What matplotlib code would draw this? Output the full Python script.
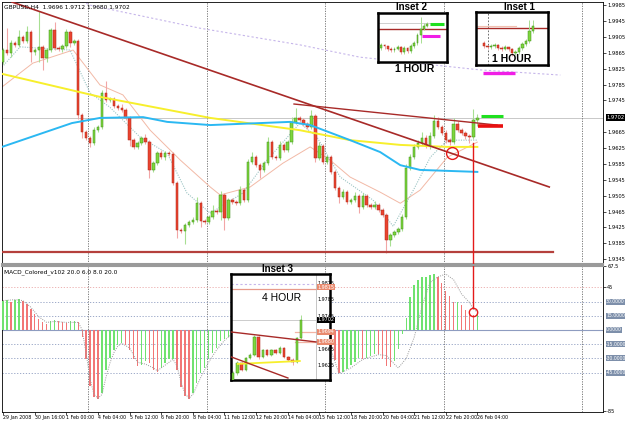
import matplotlib
matplotlib.use("Agg")
import matplotlib.pyplot as plt
from matplotlib.patches import Rectangle
import matplotlib.transforms as mtrans

plt.rcParams['font.family'] = ['Liberation Sans', 'DejaVu Sans']
NARROW = ['Liberation Sans Narrow', 'DejaVu Sans']

# ------------------------------------------------------------------ data
symbol_header = "GBPUSD,H4  1.9696 1.9712 1.9680 1.9702"
macd_header = "MACD_Colored_v102 20.0 6.0 8.0 20.0"
current_price = 1.9702

first_open = 1.9842
closes = [1.9872, 1.9864, 1.9890, 1.9885, 1.9905, 1.9895, 1.9917, 1.9867, 1.9872, 1.9880,
          1.9852, 1.9872, 1.9922, 1.9877, 1.9875, 1.9882, 1.9917, 1.9890, 1.9895, 1.9708,
          1.9665, 1.9650, 1.9638, 1.9670, 1.9678, 1.9764, 1.9746, 1.9749, 1.9731, 1.9726,
          1.9721, 1.9701, 1.9645, 1.9628, 1.9638, 1.9650, 1.9640, 1.9570, 1.9587, 1.9612,
          1.9602, 1.9612, 1.9610, 1.9537, 1.9418, 1.9416, 1.9431, 1.9439, 1.9444, 1.9486,
          1.9441, 1.9439, 1.9451, 1.9466, 1.9464, 1.9507, 1.9449, 1.9494, 1.9489, 1.9486,
          1.9519, 1.9494, 1.9590, 1.9602, 1.9582, 1.9570, 1.9587, 1.9640, 1.9602, 1.9600,
          1.9633, 1.9620, 1.9640, 1.9691, 1.9701, 1.9696, 1.9686, 1.9678, 1.9706, 1.9600,
          1.9630, 1.9590, 1.9602, 1.9565, 1.9524, 1.9502, 1.9514, 1.9489, 1.9494, 1.9504,
          1.9476, 1.9504, 1.9481, 1.9476, 1.9481, 1.9469, 1.9456, 1.9393, 1.9406, 1.9413,
          1.9421, 1.9451, 1.9575, 1.9602, 1.9628, 1.9638, 1.9650, 1.9630, 1.9655, 1.9693,
          1.9678, 1.9663, 1.9645, 1.9640, 1.9686, 1.9670, 1.9663, 1.9655, 1.9653, 1.9696,
          1.9702]
upper_wick_pips = [5, 55, 8, 5, 18, 5, 15, 5, 5, 90, 5, 5, 5, 20, 5, 5, 8, 5, 5, 5,
                   5, 5, 5, 8, 5, 8, 30, 5, 5, 5, 10, 5, 5, 5, 5, 5, 10, 5, 5, 5,
                   8, 5, 5, 5, 5, 5, 5, 5, 8, 15, 5, 5, 5, 15, 5, 10, 5, 5, 5, 5,
                   10, 5, 8, 12, 5, 5, 5, 12, 5, 5, 10, 5, 5, 12, 25, 5, 5, 5, 15, 5,
                   10, 5, 5, 5, 5, 5, 8, 5, 5, 10, 5, 8, 5, 5, 10, 5, 5, 5, 5, 5,
                   5, 8, 10, 8, 8, 8, 15, 8, 10, 15, 10, 5, 8, 5, 15, 8, 5, 5, 5, 28,
                   10]
lower_wick_pips = [5, 5, 10, 5, 5, 5, 5, 25, 8, 30, 30, 10, 5, 5, 5, 8, 5, 10, 5, 10,
                   15, 5, 10, 5, 5, 5, 5, 5, 5, 5, 5, 5, 15, 5, 5, 5, 5, 20, 5, 5,
                   5, 8, 5, 5, 20, 5, 33, 5, 5, 5, 15, 5, 5, 5, 5, 20, 30, 5, 5, 5,
                   5, 5, 5, 5, 5, 20, 5, 5, 5, 5, 5, 5, 5, 5, 5, 5, 5, 5, 5, 10,
                   5, 5, 5, 5, 5, 15, 5, 5, 5, 5, 15, 5, 5, 5, 5, 5, 5, 33, 15, 5,
                   5, 5, 5, 5, 5, 5, 5, 5, 8, 5, 5, 5, 8, 8, 5, 5, 5, 8, 15, 5,
                   16]

# moving averages (bar index, price)
ma_yellow_x = [-0.3, 24.5, 52.4, 75.1, 87.8, 100.5, 112.4, 120.0]
ma_yellow_y = [1.9812, 1.9754, 1.9701, 1.9670, 1.9645, 1.9633, 1.9628, 1.9628]
ma_blue_x = [-0.3, 17.4, 24.5, 35.4, 41.5, 52.4, 72.6, 77.7, 87.8, 95.4, 100.5, 105.5, 120.0]
ma_blue_y = [1.9628, 1.9688, 1.9701, 1.9703, 1.9691, 1.9683, 1.9691, 1.9683, 1.9645,
             1.9615, 1.9582, 1.9570, 1.9565]
ma_salmon_x = [-0.3, 7.5, 17.7, 24.5, 30.3, 37.2, 44.8, 52.4, 54.9, 62.5, 70.8, 77.7,
               82.7, 87.8, 95.4, 100.5, 105.5, 112.4, 120.0]
ma_salmon_y = [1.9779, 1.9839, 1.9872, 1.9784, 1.9759, 1.9670, 1.9595, 1.9527, 1.9507,
               1.9527, 1.9587, 1.9628, 1.9595, 1.9552, 1.9514, 1.9486, 1.9519, 1.9602, 1.9640]
ma_fast_x = [-0.3, 4.3, 16.9, 22.0, 27.0, 34.6, 41.5, 46.5, 52.4, 60.7, 66.8, 75.1,
             79.4, 85.3, 93.6, 98.7, 103.8, 108.1, 112.4, 120.0]
ma_fast_y = [1.9829, 1.9880, 1.9872, 1.9764, 1.9728, 1.9653, 1.9612, 1.9512, 1.9461,
             1.9512, 1.9595, 1.9688, 1.9653, 1.9552, 1.9494, 1.9428, 1.9519, 1.9602,
             1.9645, 1.9645]
ma_lavender_x = [20.0, 22.0, 49.8, 75.1, 90.3, 120.7, 141.0]
ma_lavender_y = [1.9995, 1.9985, 1.9927, 1.9885, 1.9854, 1.9822, 1.9809]

# drawn objects (bar index, price)
trend_main = ([2.2, 138.2], [1.9993, 1.9527])
trend_top = ([73.6, 125.0], [1.9736, 1.9683])
support = ([-0.3, 139.2], [1.9363, 1.9363])
green_mark = ([121.0, 126.5], [1.9707, 1.9707])
red_mark = ([120.2, 126.5], [1.9680, 1.9680])
magenta_mark = ([121.5, 129.6], [1.9814, 1.9814])
circle_main = (113.6, 1.9612)
vline_bar, vline_price, vline_macd = 118.9, 1.9638, 23.0
circle_macd = (118.9, 19.0)
separators = [21.5, 51.5, 81.5, 111.5, 146.5]

price_ticks = [1.9985, 1.9945, 1.9905, 1.9865, 1.9825, 1.9785, 1.9745,
               1.9665, 1.9625, 1.9585, 1.9545, 1.9505, 1.9465, 1.9425, 1.9385, 1.9345]

time_ticks = [0, 8, 16, 24, 32, 40, 48, 56, 64, 72, 80, 88, 96, 104, 112, 120]
time_labels = ["29 Jan 2008", "30 Jan 16:00", "1 Feb 00:00", "4 Feb 04:00", "5 Feb 12:00",
               "6 Feb 20:00", "8 Feb 04:00", "11 Feb 12:00", "12 Feb 20:00", "14 Feb 04:00",
               "15 Feb 12:00", "18 Feb 20:00", "20 Feb 04:00", "21 Feb 12:00",
               "22 Feb 20:00", "26 Feb 04:00"]

macd = [31, 32, 30, 32, 33, 31, 27, 22, 17, 12, 8, 6, 9, 11, 10, 8, 7, 9, 10, 8,
        -7, -31, -59, -71, -73, -66, -42, -30, -21, -16, -14, -16, -21, -31, -38, -37, -33, -35, -42, -44,
        -40, -35, -31, -31, -42, -60, -70, -73, -66, -56, -45, -40, -31, -24, -19, -12, -10, -7, -2, 3,
        6, 5, 12, 16, 15, 13, 14, 19, 17, 15, 16, 14, 15, 21, 24, 22, 19, 15, 16, 5,
        2, -6, -10, -20, -32,
        -45, -44, -41, -37, -34, -30, -31, -29.5, -27, -25, -25.5, -31, -38.4, -39.5, -33, -20, -4, 13, 35, 47,
        53, 55.8, 55.8, 57.5, 59.3, 55.5, 50, 41.5, 36, 29.6, 29.6, 26, 21, 17.4, 15.7, 18]
signal_x = [0, 3, 5, 7, 9, 11, 13, 16, 19, 20, 21, 22, 23, 24, 25, 26, 27, 28, 29, 30, 32, 34,
            36, 38, 39, 41, 43, 44, 45, 46, 47, 48, 50, 52, 54, 56, 58, 62, 67, 74, 79, 83,
            85, 88, 91, 95, 97, 99, 100, 102, 104, 106, 108, 110, 112, 114, 116, 118, 119, 120]
signal_y = [31, 32, 31, 24, 14, 8, 9, 8, 8, 0, -25, -52, -68, -72, -68, -50, -35, -24, -17, -14,
            -19, -34, -36, -40, -43, -37, -31, -38, -55, -67, -72, -68, -50, -34, -21, -11, -4,
            12, 18, 23, 8, -22, -46, -40, -31, -26, -27, -36, -40, -30, -8, 25, 50, 56, 59, 53,
            38, 29, 22, 19]
macd_levels = [30, 15, 0, -15, -30, -45]

# inset 2 (1 hour)
in2_open0 = 1.9765
in2_close = [1.9768, 1.9767, 1.9764, 1.9763, 1.9764, 1.9766, 1.9761, 1.9765, 1.9762, 1.9767,
             1.9770, 1.9778, 1.9784, 1.9787, 1.9789]
in2_high = [1.9770, 1.9769, 1.9767, 1.9766, 1.9766, 1.9768, 1.9767, 1.9767, 1.9766, 1.9769,
            1.9772, 1.9780, 1.9796, 1.9790, 1.9791]
in2_low = [1.9763, 1.9764, 1.9762, 1.9761, 1.9761, 1.9763, 1.9759, 1.9759, 1.9760, 1.9760,
           1.9765, 1.9768, 1.9770, 1.9783, 1.9786]
in2_res = 1.9784
in2_gray = 1.9790
in2_magenta = ([12.4, 17.9], 1.9777)
in2_green = ([14.8, 19.0], 1.9789)

# inset 1 (1 hour)
in1_open0 = 1.9769
in1_close = [1.9766, 1.9765, 1.9766, 1.9767, 1.9764, 1.9763, 1.9765, 1.9763, 1.9759, 1.9760,
             1.9764, 1.9768, 1.9771, 1.9781, 1.9786]
in1_high = [1.9771, 1.9767, 1.9768, 1.9769, 1.9768, 1.9766, 1.9767, 1.9765, 1.9764, 1.9762,
            1.9766, 1.9770, 1.9773, 1.9792, 1.9792]
in1_low = [1.9764, 1.9763, 1.9763, 1.9764, 1.9762, 1.9761, 1.9762, 1.9761, 1.9756, 1.9757,
           1.9758, 1.9762, 1.9766, 1.9769, 1.9779]
in1_res = 1.9784
in1_pink = 1.9786
in1_vline = 1.1

# inset 3 (4 hour)
in3_open0 = 1.9586
in3_close = [1.9608, 1.9632, 1.9615, 1.9644, 1.9652, 1.9695, 1.9647, 1.9664, 1.9652, 1.9664,
             1.9656, 1.9668, 1.9647, 1.9639, 1.9635, 1.9692, 1.9736]
in3_high = [1.9612, 1.9636, 1.9634, 1.9647, 1.9656, 1.9699, 1.9697, 1.9667, 1.9666, 1.9667,
            1.9665, 1.9672, 1.9670, 1.9648, 1.9644, 1.9695, 1.9748]
in3_low = [1.9580, 1.9604, 1.9612, 1.9612, 1.9641, 1.9650, 1.9643, 1.9644, 1.9649, 1.9650,
           1.9653, 1.9654, 1.9645, 1.9636, 1.9628, 1.9633, 1.9690]
in3_lav = 1.9823
in3_pink_top = 1.9811
in3_res = ([-0.5, 19.5], [1.9707, 1.9683])
in3_trend = ([-0.5, 12.9], [1.9647, 1.9596])
in3_yellow = ([1.1, 15.7], [1.9630, 1.9637])
in3_levels = [1.9707, 1.9683]
in3_ticks = [1.9825, 1.9785, 1.9745, 1.9665, 1.9625]
in3_boxes = [("1.9815", 1.9815, '#e98a6e'), ("1.9702", 1.9736, 'black'),
             ("1.9694", 1.9707, '#e98a6e'), ("1.9680", 1.9683, '#e98a6e')]

# ------------------------------------------------------------------ style
PIP = 0.0001
W, H = 625, 421
BODY_UP, EDGE_UP, WICK_UP = '#7ed63e', '#3f8f1a', '#a8df92'
BODY_DN, EDGE_DN, WICK_DN = '#ea4430', '#b0281a', '#f2a6a6'
DARKRED = '#a82a28'
TICK_FS = 3.7
BOX_FS = 3.3
TIME_FS = 3.4


def rect(x0, y0, x1, y1):
    return [x0 / W, 1 - y1 / H, (x1 - x0) / W, (y1 - y0) / H]


def draw_candles(a, opens, highs, lows, cls, width, lw_wick=0.8, min_h=0.0001):
    for i in range(len(cls)):
        o, h, l, c = opens[i], highs[i], lows[i], cls[i]
        up = c >= o
        a.vlines(i, l, h, colors=WICK_UP if up else WICK_DN, lw=lw_wick, zorder=3)
        lo = min(o, c)
        hgt = max(abs(c - o), min_h)
        a.add_patch(Rectangle((i - width / 2, lo), width, hgt,
                              facecolor=BODY_UP if up else BODY_DN,
                              edgecolor=EDGE_UP if up else EDGE_DN, lw=0.35, zorder=4))


fig = plt.figure(figsize=(W / 100, H / 100), dpi=100)
fig.patch.set_facecolor('white')

ax = fig.add_axes(rect(2, 2, 603, 264))
axm = fig.add_axes(rect(2, 266, 603, 412))

n = len(closes)
opens = [first_open] + closes[:-1]
highs = [max(o, c) + u * PIP for o, c, u in zip(opens, closes, upper_wick_pips)]
lows = [min(o, c) - d * PIP for o, c, d in zip(opens, closes, lower_wick_pips)]

# ---------------- main price panel
ax.set_xlim(-0.3, 151.8)
ax.set_ylim(1.9333, 1.9993)
ax.axhline(current_price, color='#c8c8c8', lw=0.7, zorder=1)
for s in separators:
    ax.axvline(s, color='#6a6a6a', ls=(0, (1.5, 1.5)), lw=0.6, zorder=1)
    axm.axvline(s, color='#6a6a6a', ls=(0, (1.5, 1.5)), lw=0.6, zorder=1)

ax.plot(ma_lavender_x, ma_lavender_y, color='#c6b6ea', ls=(0, (2, 2)), lw=0.8, zorder=2)
ax.plot(ma_salmon_x, ma_salmon_y, color='#f2b9a6', lw=0.7, zorder=2)
ax.plot(ma_fast_x, ma_fast_y, color='#9cc4c4', ls=(0, (1, 1.2)), lw=0.8, zorder=2)
draw_candles(ax, opens, highs, lows, closes, 0.62)
ax.plot(ma_yellow_x, ma_yellow_y, color='#f7ef2c', lw=1.4, zorder=5)
ax.plot(ma_blue_x, ma_blue_y, color='#2bb8f2', lw=1.4, zorder=5)
ax.plot(*trend_main, color=DARKRED, lw=1.2, zorder=6)
ax.plot(*trend_top, color=DARKRED, lw=1.0, zorder=6)
ax.plot(*support, color='#b5403c', lw=1.6, zorder=6)
ax.plot(*green_mark, color='#1fe01f', lw=2.2, solid_capstyle='butt', zorder=7)
ax.plot(*red_mark, color='#e81010', lw=2.6, solid_capstyle='butt', zorder=7)
ax.plot(*magenta_mark, color='#f01ee6', lw=2.4, solid_capstyle='butt', zorder=7)
ax.plot([circle_main[0]], [circle_main[1]], 'o', ms=8.5, mfc='none', mec='#e41a1a', mew=1.0, zorder=8)
ax.plot([vline_bar, vline_bar], [vline_price, 1.9333], color='#e41a1a', lw=1.0, zorder=8)

ax.yaxis.tick_right()
ax.set_yticks(price_ticks)
ax.set_yticklabels([f"{t:.4f}" for t in price_ticks], family=NARROW)
ax.tick_params(axis='y', labelsize=TICK_FS, length=2, width=0.5, pad=1)
ax.tick_params(axis='x', bottom=False, labelbottom=False)
ax.text(1.006, current_price, f"{current_price:.4f}",
        transform=mtrans.blended_transform_factory(ax.transAxes, ax.transData),
        fontsize=TICK_FS, family=NARROW, color='white', va='center', ha='left', clip_on=False,
        bbox=dict(boxstyle='square,pad=0.12', fc='black', ec='none'))
ax.text(0.004, 0.99, symbol_header, transform=ax.transAxes, fontsize=4.2, family=NARROW,
        va='top', ha='left', zorder=9)
for sp in ax.spines.values():
    sp.set_linewidth(0.6)
ax.spines['bottom'].set_color('#9a9a9a')
ax.spines['bottom'].set_linewidth(1.5)

# ---------------- MACD panel
axm.set_xlim(-0.3, 151.8)
axm.set_ylim(-86.5, 67.5)
for lv in macd_levels:
    if lv == 0:
        axm.axhline(lv, color='#8e9cc0', lw=0.8, zorder=1)
    else:
        axm.axhline(lv, color='#8e9cc0', ls=(0, (1.5, 2)), lw=0.6, zorder=1)
axm.axhline(45, color='#eaa8a8', ls=(0, (1.5, 2)), lw=0.6, zorder=1)
bar_cols = []
for i, v in enumerate(macd):
    prev = macd[i - 1] if i > 0 else v - 1
    bar_cols.append('#6fe26f' if v >= prev else '#f27676')
axm.bar(range(n), macd, width=0.35, color=bar_cols, zorder=3)
axm.plot(signal_x, signal_y, color='#9a9a9a', ls=(0, (1, 1.3)), lw=0.7, zorder=4)
axm.plot([vline_bar, vline_bar], [67.5, vline_macd], color='#e41a1a', lw=1.0, zorder=8)
axm.plot([circle_macd[0]], [circle_macd[1]], 'o', ms=6, mfc='none', mec='#e41a1a', mew=1.0, zorder=8)
axm.yaxis.tick_right()
axm.set_yticks([67.5, 45, -85])
axm.set_yticklabels(['67.5', '45', '-85'], family=NARROW)
axm.tick_params(axis='y', labelsize=TICK_FS, length=2, width=0.5, pad=1)
btr = mtrans.blended_transform_factory(axm.transAxes, axm.transData)
for lv in macd_levels:
    axm.text(1.005, lv, f"{lv:.4f}", transform=btr, fontsize=BOX_FS, family=NARROW, color='white',
             va='center', ha='left', clip_on=False,
             bbox=dict(boxstyle='square,pad=0.1', fc='#7d8faa', ec='none'))
axm.set_xticks(time_ticks)
axm.set_xticklabels(time_labels, ha='left', family=NARROW)
axm.tick_params(axis='x', labelsize=TIME_FS, length=2, width=0.5, pad=0.5)
axm.text(0.004, 0.975, macd_header, transform=axm.transAxes, fontsize=4.2, family=NARROW,
         va='top', ha='left', zorder=9)
for sp in axm.spines.values():
    sp.set_linewidth(0.6)
axm.spines['top'].set_color('#9a9a9a')
axm.spines['top'].set_linewidth(1.5)


def make_inset(r):
    a = fig.add_axes(r)
    a.set_facecolor('white')
    a.set_xticks([])
    a.set_yticks([])
    for sp in a.spines.values():
        sp.set_linewidth(1.8)
        sp.set_color('black')
    return a


# ---------------- inset 2
a2 = make_inset(rect(378, 13, 447, 62))
a2.set_xlim(-1, 20)
a2.set_ylim(1.9751, 1.9800)
a2.axhline(in2_gray, xmax=0.75, color='#cfcfcf', lw=0.7)
a2.axhline(in2_res, color=DARKRED, lw=1.0)
draw_candles(a2, [in2_open0] + in2_close[:-1], in2_high, in2_low, in2_close, 0.55, lw_wick=0.7, min_h=0.00008)
a2.plot(in2_magenta[0], [in2_magenta[1]] * 2, color='#f01ee6', lw=2.2, solid_capstyle='butt', zorder=6)
a2.plot(in2_green[0], [in2_green[1]] * 2, color='#1fe01f', lw=2.2, solid_capstyle='butt', zorder=6)

# ---------------- inset 1
a1 = make_inset(rect(476, 12, 548, 65))
a1.set_xlim(-2.3, 18.3)
a1.set_ylim(1.9747, 1.9800)
a1.axvline(in1_vline, color='#555555', ls=(0, (2, 2)), lw=0.6)
a1.axhline(in1_pink, xmax=0.55, color='#f2c0b0', lw=0.8)
a1.axhline(in1_res, color=DARKRED, lw=1.0)
draw_candles(a1, [in1_open0] + in1_close[:-1], in1_high, in1_low, in1_close, 0.6, lw_wick=0.7, min_h=0.00008)

# ---------------- inset 3
a3 = make_inset(rect(231, 274, 330, 380))
a3.set_xlim(-0.5, 22.8)
a3.set_ylim(1.95912, 1.98467)
a3.plot([-0.5, 19.5], [in3_lav, in3_lav], color='#c6b6ea', ls=(0, (2, 2)), lw=0.8)
a3.plot([-0.5, 19.5], [in3_pink_top, in3_pink_top], color='#e89a8a', lw=0.9)
a3.plot([-0.5, 19.5], [in3_close[-1], in3_close[-1]], color='#cccccc', lw=0.7)
for lv in in3_levels:
    a3.plot([14.5, 19.5], [lv, lv], color='#f2b4a4', lw=0.9)
a3.plot(*in3_res, color=DARKRED, lw=1.0, zorder=6)
a3.plot(*in3_trend, color=DARKRED, lw=1.0, zorder=6)
a3.plot(*in3_yellow, color='#f7ef2c', lw=1.3, zorder=5)
draw_candles(a3, [in3_open0] + in3_close[:-1], in3_high, in3_low, in3_close, 0.55, lw_wick=0.7, min_h=0.0001)
a3.axvline(19.5, color='#bbbbbb', lw=0.6)
for t in in3_ticks:
    a3.text(19.9, t, f"{t:.4f}", fontsize=3.5, family=NARROW, va='center', ha='left')
for lab, val, col in in3_boxes:
    a3.text(19.9, val, lab, fontsize=3.5, family=NARROW, va='center', ha='left', color='white',
            bbox=dict(boxstyle='square,pad=0.1', fc=col, ec='none'))
a3.text(11.5, 1.9788, "4 HOUR", fontsize=7.5, ha='center', va='center')


# ---------------- captions
def ftext(x, y, s, **kw):
    fig.text(x / W, 1 - y / H, s, ha='center', va='center', **kw)


ftext(411, 7.5, "Inset 2", fontsize=7, fontweight='bold')
ftext(519, 7, "Inset 1", fontsize=7, fontweight='bold')
ftext(415, 69, "1 HOUR", fontsize=7.5, fontweight='bold')
ftext(512, 59.5, "1 HOUR", fontsize=7.5, fontweight='bold')
ftext(277, 269, "Inset 3", fontsize=7, fontweight='bold')

fig.savefig("out.png", dpi=100, facecolor='white')
